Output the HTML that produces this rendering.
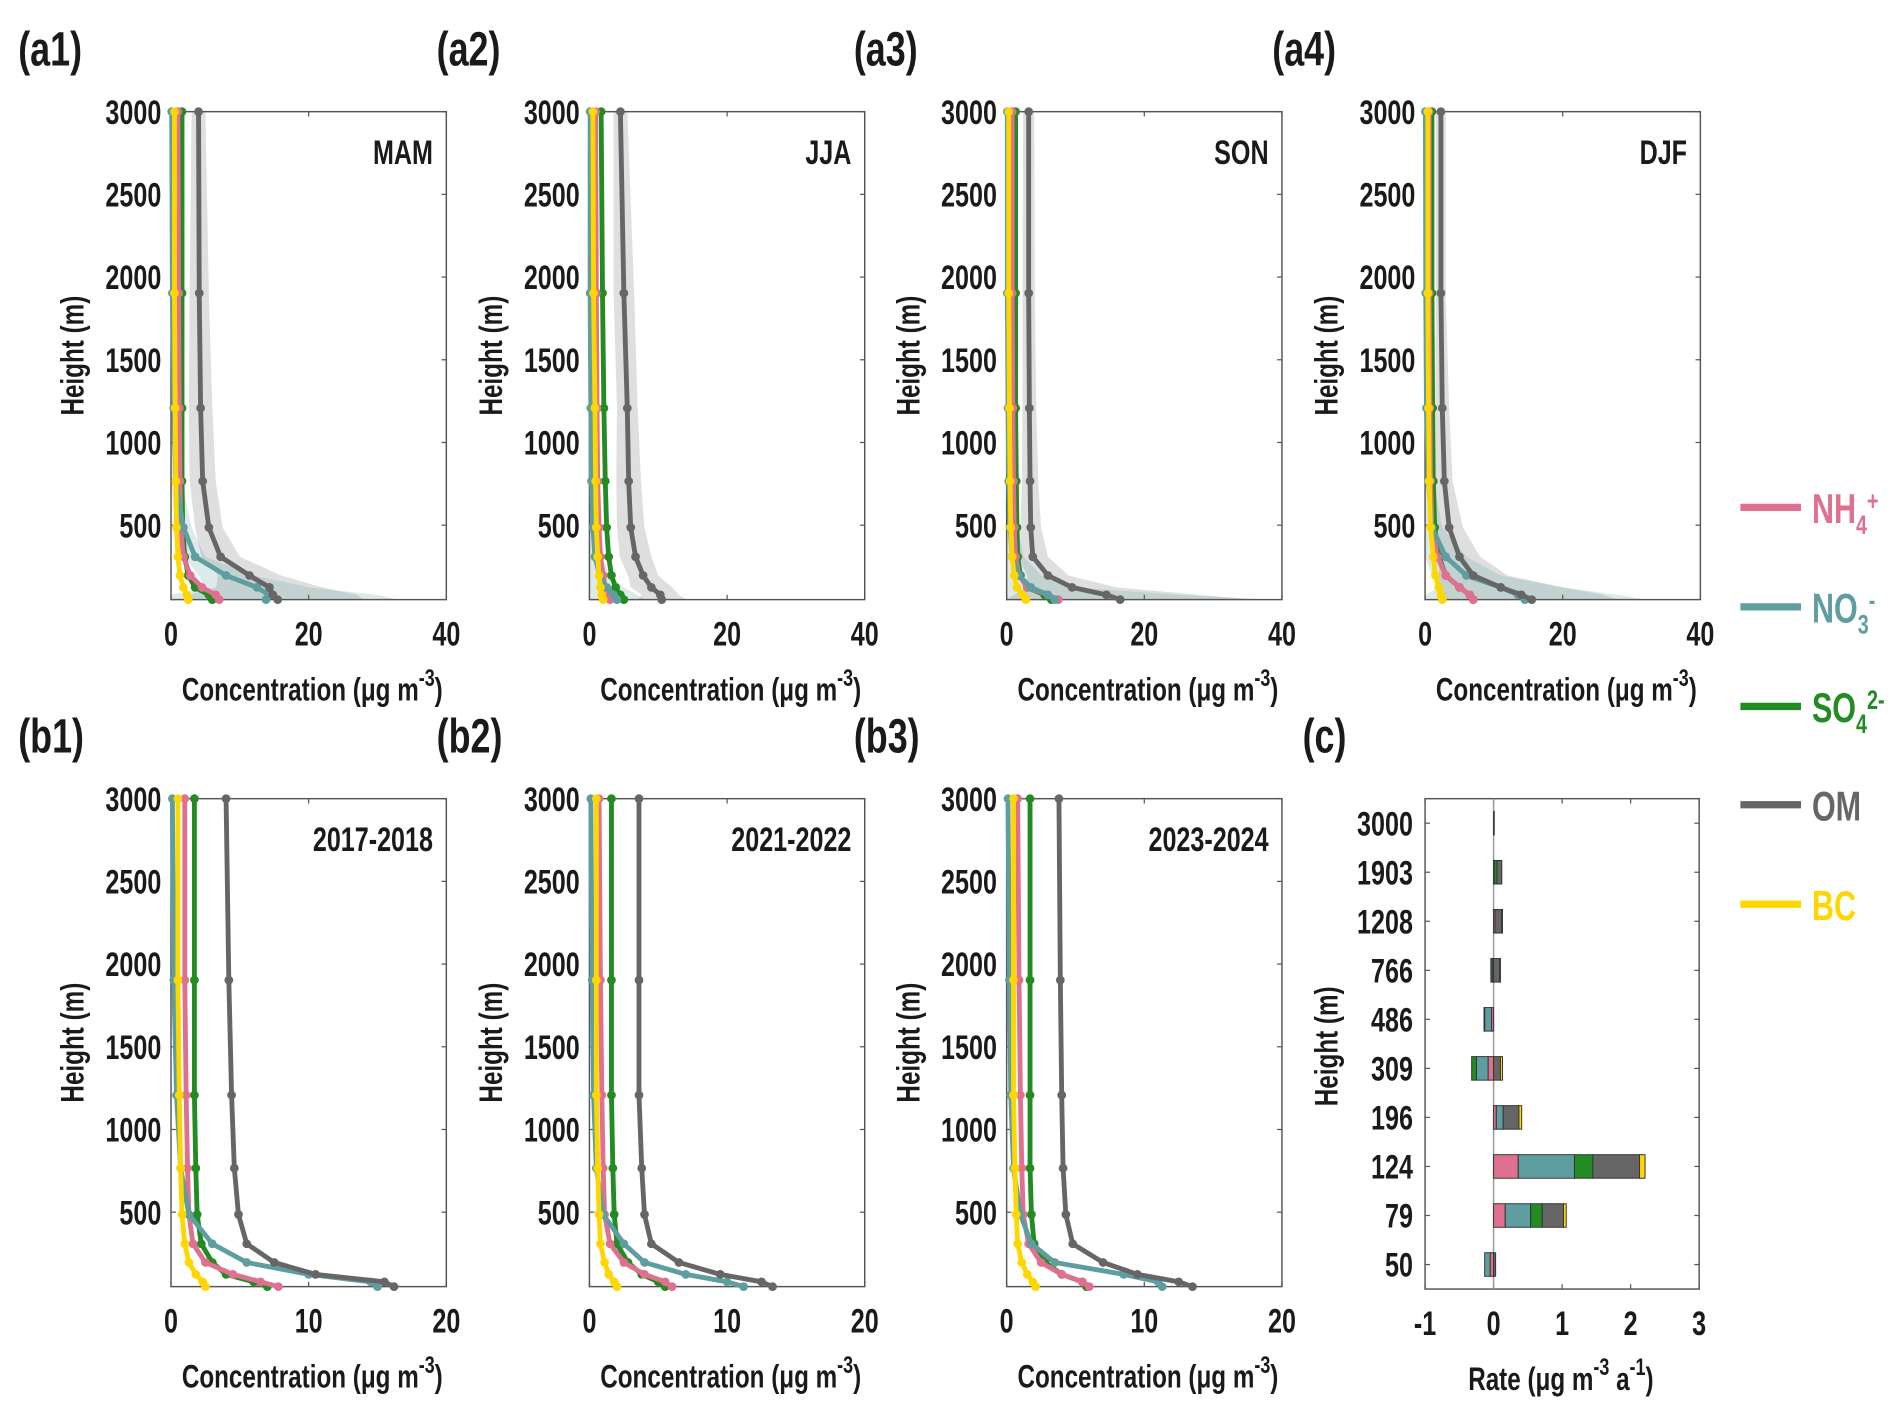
<!DOCTYPE html>
<html><head><meta charset="utf-8"><style>
html,body{margin:0;padding:0;background:#fff}
svg{display:block}
text{font-family:"Liberation Sans",sans-serif;font-weight:bold;fill:#1a1a1a}
</style></head><body>
<svg id="fig" width="1892" height="1408" viewBox="0 0 1560 1160" preserveAspectRatio="none" xmlns="http://www.w3.org/2000/svg"></svg>
<script>
const heights=[50,79,124,196,309,486,766,1208,1903,3000];
const species=["NH4","NO3","SO4","OM","BC"];
const colors={NH4:"#E07090",NO3:"#5F9EA0",SO4:"#228B22",OM:"#666666",BC:"#FFD700"};
const a1NH4=[7,6.5,4.5,2.8,1.8,1.4,1.3,1.2,1.1,1.0];
const a1NO3=[13.8,14.2,12.5,8,3.5,1.8,0.7,0.4,0.2,0.1];
const a1SO4=[6,5.5,3.5,2.5,2.0,1.7,1.6,1.6,1.6,1.6];
const a1OM=[15.5,14.8,14.3,11.4,7.2,5.5,4.6,4.3,4.1,4.0];
const a1BC=[2.5,2.3,1.8,1.3,1.0,0.8,0.7,0.6,0.5,0.5];
const a1OMup=[28,27,22,16,10,7.5,6.5,6,5.5,5];
const a1NO3up=[33,30,20,12,5,3,1.5,1,0.6,0.4];
const a2NH4=[3,2.8,2.3,2,1.6,1.4,1.2,1.1,1,0.9];
const a2NO3=[4,3.5,2.5,1.5,0.8,0.5,0.3,0.2,0.1,0.1];
const a2SO4=[5,4.5,3.8,3.2,2.8,2.5,2.3,2.1,1.9,1.7];
const a2OM=[10.5,10.3,9,7.8,6.7,6,5.7,5.5,5.0,4.5];
const a2BC=[2,1.8,1.6,1.4,1.2,1.0,0.9,0.8,0.6,0.5];
const a2OMup=[14,13,12,10,9,8,7.5,7,6.5,5.5];
const a2NO3up=[8,7,5,3,1.8,1.2,0.8,0.5,0.3,0.2];
const a3NH4=[7.5,6,3,1.8,1.3,1.1,1,0.9,0.8,0.8];
const a3NO3=[7,6,3.5,1.8,0.8,0.5,0.3,0.2,0.1,0.1];
const a3SO4=[6.5,5.5,3,2,1.6,1.5,1.4,1.3,1.3,1.3];
const a3OM=[16.5,14.5,9.5,6,3.8,3.5,3.4,3.3,3.2,3.2];
const a3BC=[2.8,2.3,1.5,1.1,0.8,0.6,0.5,0.4,0.3,0.3];
const a3OMup=[36,28,16,9,6,5,4.6,4.3,4.1,4.0];
const a3NO3up=[38,25,10,5,2.5,1.5,0.8,0.5,0.3,0.2];
const a4NH4=[7,6.5,5,3,1.8,1,0.8,0.7,0.6,0.6];
const a4NO3=[14.5,13.5,11,6,3,1,0.5,0.2,0.1,0.05];
const a4SO4=[7,6.5,5,3,2,1.4,1.2,1.1,1.0,1.0];
const a4OM=[15.5,14,11,7,5,3.5,2.8,2.5,2.3,2.3];
const a4BC=[2.5,2.3,2,1.5,1.2,0.8,0.6,0.5,0.4,0.4];
const a4OMup=[28,26,20,12,8,5.5,4,3.5,3,3];
const a4NO3up=[32,28,20,11,6,2.5,1.2,0.6,0.3,0.2];
const b1NH4=[7.8,6.5,4.5,2.5,1.6,1.3,1.2,1.1,1.0,1.0];
const b1NO3=[15,14.5,10,5.5,3,1.3,0.7,0.4,0.2,0.1];
const b1SO4=[7,6,4,3,2.2,1.9,1.8,1.7,1.7,1.7];
const b1OM=[16.2,15.5,10.5,7.5,5.5,4.9,4.6,4.4,4.2,4.0];
const b1BC=[2.5,2.3,1.8,1.3,1.0,0.8,0.7,0.6,0.5,0.5];
const b2NH4=[6,5.5,4,2.5,1.5,1.1,1,0.9,0.8,0.7];
const b2NO3=[11.2,10,7,4,2.5,1.0,0.5,0.3,0.2,0.1];
const b2SO4=[5.5,5,3.8,2.8,2,1.8,1.7,1.6,1.6,1.6];
const b2OM=[13.3,12.5,9.5,6.5,4.5,4.0,3.8,3.6,3.6,3.6];
const b2BC=[2,1.8,1.4,1.1,0.8,0.7,0.6,0.5,0.5,0.5];
const b3NH4=[6,5.5,4,2.5,1.6,1.2,1.1,1,0.9,0.8];
const b3NO3=[11.3,11,8.5,3.5,1.8,1.0,0.5,0.3,0.2,0.1];
const b3SO4=[5.8,5.5,4,2.8,2,1.8,1.7,1.7,1.7,1.7];
const b3OM=[13.5,12.5,9.5,7,4.8,4.3,4.1,4.0,3.9,3.8];
const b3BC=[2.1,1.9,1.5,1.1,0.8,0.7,0.6,0.5,0.5,0.5];
const cNH4=[-0.05,0.17,0.36,0.04,-0.08,-0.03,0,0.02,0,0];
const cNO3=[-0.08,0.37,0.82,0.10,-0.17,-0.10,-0.02,0,0.01,0];
const cSO4=[0,0.17,0.27,0,-0.07,-0.01,-0.02,0,0.04,0];
const cOM=[0.03,0.31,0.68,0.23,0.10,0,0.09,0.10,0.07,0.01];
const cBC=[0,0.04,0.08,0.04,0.03,0,0.01,0.01,0,0];
const cLabels=["50","79","124","196","309","486","766","1208","1903","3000"];
const yTicks=[500,1000,1500,2000,2500,3000];

const NS="http://www.w3.org/2000/svg";
const svg=document.getElementById('fig');
const SX=0.74;
function el(tag,attrs,parent,txt){const e=document.createElementNS(NS,tag);for(const k in attrs)e.setAttribute(k,attrs[k]);if(txt!==undefined)e.textContent=txt;(parent||svg).appendChild(e);return e;}
function tx(parent,x,y,size,anchor,str,rot){
  const t=el('text',{x:0,y:0,'font-size':size,'text-anchor':anchor||'start',transform:`translate(${x},${y})${rot?' rotate(-90)':''} scale(${SX},1)`},parent,str);
  return t;
}

const colsX=[141,486,830,1175], W=227;
const panels=[
 {id:"a1",col:0,row:0,xmax:40,tag:"MAM",d:{NH4:a1NH4,NO3:a1NO3,SO4:a1SO4,OM:a1OM,BC:a1BC},up:{OM:a1OMup,NO3:a1NO3up}},
 {id:"a2",col:1,row:0,xmax:40,tag:"JJA",d:{NH4:a2NH4,NO3:a2NO3,SO4:a2SO4,OM:a2OM,BC:a2BC},up:{OM:a2OMup,NO3:a2NO3up}},
 {id:"a3",col:2,row:0,xmax:40,tag:"SON",d:{NH4:a3NH4,NO3:a3NO3,SO4:a3SO4,OM:a3OM,BC:a3BC},up:{OM:a3OMup,NO3:a3NO3up}},
 {id:"a4",col:3,row:0,xmax:40,tag:"DJF",d:{NH4:a4NH4,NO3:a4NO3,SO4:a4SO4,OM:a4OM,BC:a4BC},up:{OM:a4OMup,NO3:a4NO3up}},
 {id:"b1",col:0,row:1,xmax:20,tag:"2017-2018",d:{NH4:b1NH4,NO3:b1NO3,SO4:b1SO4,OM:b1OM,BC:b1BC}},
 {id:"b2",col:1,row:1,xmax:20,tag:"2021-2022",d:{NH4:b2NH4,NO3:b2NO3,SO4:b2SO4,OM:b2OM,BC:b2BC}},
 {id:"b3",col:2,row:1,xmax:20,tag:"2023-2024",d:{NH4:b3NH4,NO3:b3NO3,SO4:b3SO4,OM:b3OM,BC:b3BC}}
];
const rowTop=[92,658], H=402;

function xTitle(g,x,y,parts){
  const t=tx(g,x,y,27,'middle','');
  parts.forEach(p=>{el('tspan',p[1]?{dy:p[1],'font-size':p[2]||27}:{},t,p[0]);});
  
}

function conc(x0,top,p){
  const g=el('g',{});
  
  
  const xs=v=>x0+v/p.xmax*W;
  const ys=h=>top+H-(h-50)/2950*H;
  const pl=tx(g,x0-126,top-38,40,'start','('+p.id+')');
  
  if(p.up){
    ["OM","NO3"].forEach(s=>{
      const u=p.up[s],v=p.d[s];
      let pts=heights.map((h,i)=>xs(u[i])+','+ys(h));
      pts=pts.concat(heights.map((h,i)=>xs(Math.max(0,2*v[i]-u[i]))+','+ys(h)).reverse());
      const b=el('polygon',{points:pts.join(' '),fill:s==="OM"?"rgba(150,150,150,0.3)":"rgba(95,158,160,0.22)"},g);
      
    });
  }
  const fr=el('rect',{x:x0,y:top,width:W,height:H,fill:'none',stroke:'#555','stroke-width':1.2},g);
  
  yTicks.forEach(t=>{const y=ys(t);
    el('line',{x1:x0,x2:x0+4,y1:y,y2:y,stroke:'#555'},g);el('line',{x1:x0+W,x2:x0+W-4,y1:y,y2:y,stroke:'#555'},g);
    const tl=tx(g,x0-8,y+10,28,'end',String(t));
    });
  [0,p.xmax/2,p.xmax].forEach(t=>{const x=xs(t);
    el('line',{x1:x,x2:x,y1:top,y2:top+4,stroke:'#555'},g);el('line',{x1:x,x2:x,y1:top+H,y2:top+H-4,stroke:'#555'},g);
    const tl=tx(g,x,top+H+38,28,'middle',String(t));
    });
  ["SO4","NH4","NO3","OM","BC"].forEach(s=>{
    const v=p.d[s];
    const pts=heights.map((h,i)=>xs(v[i])+','+ys(h)).join(' ');
    const ln=el('polyline',{points:pts,fill:'none',stroke:colors[s],'stroke-width':4,'stroke-linejoin':'round'},g);
    
    heights.forEach((h,i)=>{const c=el('circle',{cx:xs(v[i]),cy:ys(h),r:3.6,fill:colors[s]},g);
      });
  });
  const tg=tx(g,x0+W-11,top+43,28,'end',p.tag);
  
  xTitle(g,x0+W/2+3,top+H+83,[['Concentration (μg m'],['-3',-12,20],[')',12]]);
  const yt=tx(g,x0-72,top+H/2,27,'middle','Height (m)',true);
  
}
panels.forEach(p=>conc(colsX[p.col],rowTop[p.row],p));

(function(){
  const x0=1175,top=658,w=226,h=404;
  const g=el('g',{});
  
  
  const xs=v=>x0+(v+1)/4*w;
  const n=cLabels.length, step=h/n;
  const ys=i=>top+h-(i+0.5)*step;
  const pl=tx(g,x0-101,top-38,40,'start','(c)');
  
  const fr=el('rect',{x:x0,y:top,width:w,height:h,fill:'none',stroke:'#555','stroke-width':1.2},g);
  
  [-1,0,1,2,3].forEach(t=>{const x=xs(t);
    el('line',{x1:x,x2:x,y1:top,y2:top+4,stroke:'#555'},g);el('line',{x1:x,x2:x,y1:top+h,y2:top+h-4,stroke:'#555'},g);
    const tl=tx(g,x,top+h+38,28,'middle',String(t));
    });
  cLabels.forEach((lab,i)=>{const y=ys(i);
    el('line',{x1:x0,x2:x0+4,y1:y,y2:y,stroke:'#555'},g);el('line',{x1:x0+w,x2:x0+w-4,y1:y,y2:y,stroke:'#555'},g);
    const tl=tx(g,x0-10,y+10,28,'end',lab);
    });
  el('line',{x1:xs(0),x2:xs(0),y1:top,y2:top+h,stroke:'#999','stroke-width':1.2},g);
  const data={NH4:cNH4,NO3:cNO3,SO4:cSO4,OM:cOM,BC:cBC};
  const bh=step*0.48;
  cLabels.forEach((lab,i)=>{let pos=0,neg=0;
    species.forEach(s=>{const v=data[s][i];if(v===0)return;
      let a,b;if(v>0){a=pos;b=pos+v;pos=b;}else{a=neg+v;b=neg;neg=a;}
      const r=el('rect',{x:xs(a),y:ys(i)-bh/2,width:xs(b)-xs(a),height:bh,fill:colors[s],stroke:'#333','stroke-width':0.8},g);
      });
  });
  xTitle(g,x0+w/2-1,top+h+83,[['Rate (μg m'],['-3',-12,20],[' a',12],['-1',-12,20],[')',12]]);
  const yt=tx(g,x0-72,top+h/2+2,27,'middle','Height (m)',true);
  
})();

const legY=[418,500,582,663,745];
const legMain=["NH","NO","SO","OM","BC"];
const legSub=["4","3","4","",""];
const legSup=["+","-","2-","",""];
species.forEach((s,i)=>{
  const g=el('g',{});
  
  
  el('line',{x1:1435,x2:1485,y1:legY[i],y2:legY[i],stroke:colors[s],'stroke-width':6},g);
  const t=tx(g,1494,legY[i]+13,34,'start','');
  t.style.fill=colors[s];
  el('tspan',{},t,legMain[i]);
  if(legSub[i]){el('tspan',{dy:9,'font-size':22},t,legSub[i]);el('tspan',{dy:-20,'font-size':22},t,legSup[i]);}
});
</script>
</body></html>
